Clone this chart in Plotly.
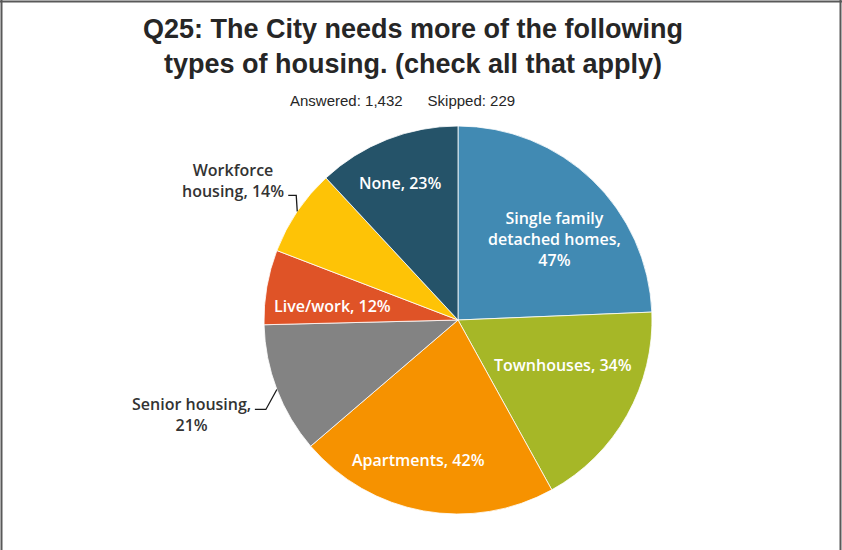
import numpy as np
import plotly.graph_objects as go

categories = ["Single family detached homes", "Townhouses", "Apartments",
              "Senior housing", "Live/work", "Workforce housing", "None"]
display_labels = ["Single family<br>detached homes,<br>47%", "Townhouses, 34%", "Apartments, 42%",
                  "Senior housing,<br>21%", "Live/work, 12%", "Workforce<br>housing, 14%", "None, 23%"]
values = [47, 34, 42, 21, 12, 14, 23]
colors = ["#418AB3", "#A6B727", "#F69200", "#838383", "#DF5327", "#FEC306", "#255369"]

# ---- layout / styling (not data) ----
W, H = 842, 550
cx, cy, r = 458, 320, 194
# label placement per slice: (mode, radius fraction, angle tweak in degrees)
label_place = [("in", 0.65, 6.0), ("in", 0.59, -6.4), ("in", 0.75, 5.3),
               ("out", 1.0, 0.0), ("in", 0.65, -3.4), ("out", 1.0, 0.0), ("in", 0.77, -1.6)]
# outside leaders: (elbow dx, elbow dy, horizontal length, text anchor, text y offset)
leaders = {3: (-11, 20, 11, "top", -18), 5: (-1, -16, 8, "bottom", 9)}

def px(x):
    return x / W

def py(y):
    return 1 - y / H

fig = go.Figure(go.Pie(
    labels=categories,
    values=values,
    textinfo="none",
    sort=False,
    direction="clockwise",
    rotation=0,
    marker=dict(colors=colors, line=dict(color="white", width=0.8)),
    hoverinfo="label+value",
    showlegend=False,
    domain=dict(x=[px(cx - r), px(cx + r)], y=[py(cy + r), py(cy - r)]),
))

total = float(sum(values))
cum = np.cumsum([0] + values) / total * 360.0
annotations = []
shapes = []
lab_font_in = dict(family="Open Sans", size=16, color="white", weight=600)
lab_font_out = dict(family="Open Sans", size=16, color="#333333", weight=600)

for i, (mode, frac, tweak) in enumerate(label_place):
    mid = (cum[i] + cum[i + 1]) / 2.0
    if mode == "in":
        a = np.radians(mid + tweak)
        x = cx + frac * r * np.sin(a)
        y = cy - frac * r * np.cos(a)
        annotations.append(dict(text=display_labels[i], x=px(x), y=py(y), xref="paper", yref="paper",
                                xanchor="center", yanchor="middle", align="center", showarrow=False,
                                font=lab_font_in))
    else:
        a = np.radians(mid)
        ex = cx + r * np.sin(a)
        ey = cy - r * np.cos(a)
        dx, dy, hl, anch, toff = leaders[i]
        bx, by = ex + dx, ey + dy
        tx = bx - hl
        shapes.append(dict(type="path", xref="paper", yref="paper",
                           path=f"M {px(ex)},{py(ey)} L {px(bx)},{py(by)} L {px(tx)},{py(by)}",
                           line=dict(color="#1a1a1a", width=1.3)))
        ty = by + toff
        annotations.append(dict(text=display_labels[i], x=px(tx - 2), y=py(ty), xref="paper", yref="paper",
                                xanchor="right", yanchor=anch, align="center", showarrow=False,
                                font=lab_font_out))

annotations += [
    dict(text="<b>Q25: The City needs more of the following<br>types of housing. (check all that apply)</b>",
         x=px(413), y=py(12), xref="paper", yref="paper", xanchor="center", yanchor="top",
         showarrow=False, font=dict(family="Liberation Sans, Arial", size=27, color="#262626")),
    dict(text="Answered: 1,432&nbsp;&nbsp;&nbsp;&nbsp;&nbsp;&nbsp;Skipped: 229",
         x=px(402), y=py(100), xref="paper", yref="paper", xanchor="center", yanchor="middle",
         showarrow=False, font=dict(family="Liberation Sans, Arial", size=15, color="#262626")),
]

shapes += [
    dict(type="line", xref="paper", yref="paper", x0=px(1.5), x1=px(1.5), y0=0, y1=1,
         line=dict(color="#595959", width=2)),
    dict(type="line", xref="paper", yref="paper", x0=0, x1=1, y0=py(1.5), y1=py(1.5),
         line=dict(color="#595959", width=2)),
    dict(type="line", xref="paper", yref="paper", x0=px(840.5), x1=px(840.5), y0=0, y1=1,
         line=dict(color="#595959", width=2)),
]

fig.update_layout(
    width=W, height=H,
    margin=dict(l=0, r=0, t=0, b=0),
    paper_bgcolor="white",
    annotations=annotations,
    shapes=shapes,
)

fig.write_html("out.html", config={"displayModeBar": False},
               post_script="document.body.style.margin='0';document.body.style.padding='0';")
